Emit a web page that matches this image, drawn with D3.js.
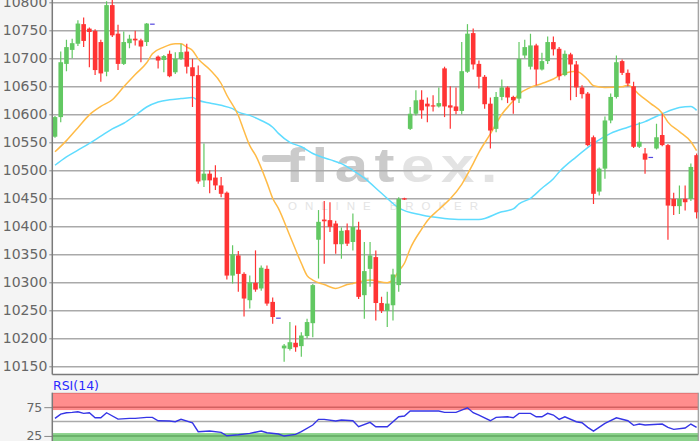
<!DOCTYPE html>
<html>
<head>
<meta charset="utf-8">
<script src="https://cdn.jsdelivr.net/npm/d3@7"></script>
<style>
  body { margin: 0; background: #f4f4f4; }
  svg { display: block; font-family: "DejaVu Sans", Verdana, sans-serif; }
</style>
</head>
<body>
<div id="chart"></div>
<script>
// candle data (one entry per bar, left to right)
var opens = [10560,10595,10690,10715,10726,10761,10753,10749,10729,10676,10795,10744,10690,10727,10735,10732,10729,10762,
  10703,10697,10708,10675,10699,10712,10684,10670,10482,10494,10487,10473,10460,10312,10348,10315,10268,10299,10289,10324,
  10265,10237,10182,10181,10192,10186,10204,10227,10376,10412,10411,10405,10368,10393,10372,10394,10277,10324,10345,10263,
  10249,10259,10295,10450,10574,10601,10626,10619,10616,10614,10682,10616,10614,10606,10676,10745,10690,10667,10619,10574,
  10631,10648,10631,10628,10705,10685,10723,10680,10695,10729,10717,10670,10707,10689,10648,10637,10559,10462,10503,10589,
  10631,10695,10674,10650,10542,10530,10524,10539,10563,10545,10449,10436,10449,10449,10527];
var highs = [10597,10712,10733,10735,10768,10773,10755,10752,10733,10802,10805,10760,10748,10742,10749,10735,10763,10762,
  10705,10706,10714,10711,10726,10726,10699,10687,10548,10500,10509,10488,10462,10366,10356,10318,10312,10357,10330,10330,
  10273,10237,10190,10229,10223,10211,10235,10297,10429,10445,10443,10410,10398,10405,10423,10408,10372,10372,10357,10274,
  10283,10324,10452,10451,10613,10643,10643,10630,10634,10648,10685,10650,10648,10729,10761,10753,10696,10670,10630,10640,
  10662,10650,10633,10729,10733,10744,10726,10710,10739,10739,10720,10714,10710,10695,10652,10640,10562,10505,10596,10637,
  10705,10698,10680,10658,10586,10540,10524,10583,10601,10547,10460,10473,10473,10512,10530];
var lows = [10558,10586,10677,10700,10722,10720,10684,10670,10658,10668,10738,10679,10688,10718,10723,10693,10722,10762,
  10682,10675,10666,10672,10697,10673,10613,10476,10470,10459,10465,10452,10305,10298,10283,10239,10253,10283,10285,10258,
  10226,10237,10158,10178,10176,10167,10200,10202,10307,10333,10390,10351,10342,10365,10357,10270,10235,10292,10232,10245,
  10220,10232,10283,10447,10572,10598,10592,10586,10605,10612,10595,10574,10600,10600,10674,10680,10646,10610,10539,10568,
  10625,10620,10601,10620,10700,10680,10652,10678,10690,10705,10661,10668,10625,10631,10628,10543,10440,10455,10485,10584,
  10628,10670,10650,10540,10540,10494,10524,10537,10543,10376,10420,10422,10428,10445,10414];
var closes = [10595,10693,10720,10727,10762,10731,10747,10679,10673,10795,10741,10690,10729,10735,10732,10721,10762,10762,
  10696,10704,10668,10699,10711,10685,10668,10480,10494,10482,10473,10458,10312,10350,10315,10271,10300,10287,10326,10262,
  10238,10237,10187,10193,10184,10205,10229,10295,10408,10409,10399,10368,10392,10369,10399,10274,10320,10348,10263,10249,
  10262,10314,10449,10448,10601,10625,10607,10614,10614,10620,10614,10612,10606,10677,10744,10689,10667,10618,10571,10631,
  10648,10630,10625,10699,10720,10723,10680,10695,10729,10716,10668,10708,10689,10648,10636,10545,10458,10503,10589,10631,
  10693,10674,10655,10542,10551,10519,10524,10559,10545,10437,10436,10449,10443,10506,10425];

// moving averages, read at some bars
var fastAt = [0,2,4,6,8,10,12,14,16,17,19,21,22,23,24,25,27,29,30,32,33,34,35,37,38,39,41,43,44,45,47,49,51,52,55,58,59,60,
  61,62,64,65,67,69,71,73,74,76,78,80,81,83,85,87,88,90,91,93,94,96,99,100,102,104,106,107,109,111,112];
var fastMa = [10533,10553,10576,10599,10614,10626,10649,10671,10692,10708,10720,10726,10726,10720,10714,10699,10680,10655,
  10634,10598,10570,10544,10527,10478,10450,10432,10383,10334,10312,10304,10296,10289,10296,10298,10304,10299,10305,10320,
  10334,10360,10395,10410,10430,10449,10475,10512,10532,10565,10600,10624,10636,10648,10655,10663,10669,10676,10677,10662,
  10651,10648,10649,10652,10635,10619,10602,10586,10569,10551,10535];
var slowAt = [0,2,4,6,8,10,12,14,16,18,20,22,24,25,27,29,31,32,34,36,38,39,41,43,45,48,50,52,54,57,60,64,68,71,74,78,80,81,
  83,85,87,88,91,94,97,100,103,106,109,111,112];
var slowMa = [10509,10524,10536,10548,10561,10574,10584,10598,10613,10622,10626,10628,10630,10625,10620,10616,10610,10604,
  10598,10589,10577,10566,10550,10542,10530,10519,10512,10500,10486,10459,10433,10420,10414,10412,10412,10426,10431,10440,
  10450,10468,10485,10497,10524,10548,10566,10577,10587,10601,10612,10614,10607];

// RSI(14), read at some bars
var rsiAt = [0,1,2,3,4,5,6,7,8,9,11,13,14,16,17,18,20,21,22,24,25,27,29,30,32,34,36,37,39,40,42,43,45,46,47,49,50,52,53,55,
  56,58,60,61,62,65,67,68,70,72,73,74,76,77,79,80,81,83,84,85,86,87,88,89,91,92,93,94,96,98,100,101,102,103,106,107,108,110,111,112];
var rsi = [55.5,63,65.3,66,67,64.3,65.3,56.6,56.6,65.3,54.3,55.5,55.5,57.3,57.3,51.4,50.9,49.7,53.8,47.9,32.3,33.5,31.2,25.3,
  27,29.5,33.5,30.5,28.3,24.8,27.7,32.3,43.9,53.8,53.8,50.9,52.6,51.4,41,48.6,41,41,58.3,59.6,68.3,68.3,68.3,66,66,74,65.3,
  61.3,51.4,57.3,58.3,56.6,64.3,64.3,58.3,58.3,64.3,61.3,53.8,58.3,49.7,47.9,39.9,33.5,46.9,56.6,51.4,43.4,45.7,43.9,45.7,
  39.9,36.4,38.7,45.7,39.9];

var priceTicks = [10150,10200,10250,10300,10350,10400,10450,10500,10550,10600,10650,10700,10750,10800];
var rsiTicks = [25, 75];
var rsiGrid = [25, 50, 75, 100];

// layout
var svgWidth = 700;
var svgHeight = 441;
var plot = {left: 52.3, right: 698.3, top: 0, bottom: 374.5};
var rsiTop = 392.7;

var svg = d3.select("#chart")
  .append("svg")
    .attr("width", svgWidth)
    .attr("height", svgHeight);

svg.append("rect").attr("width", svgWidth).attr("height", svgHeight).attr("fill", "#f4f4f4");
svg.append("rect")
  .attr("x", plot.left).attr("y", plot.top)
  .attr("width", plot.right - plot.left).attr("height", plot.bottom - plot.top)
  .attr("fill", "#fff");
svg.append("rect")
  .attr("x", plot.left).attr("y", rsiTop)
  .attr("width", plot.right - plot.left).attr("height", svgHeight - rsiTop)
  .attr("fill", "#fff");

var defs = svg.append("defs");
defs.append("clipPath").attr("id", "clipMain").append("rect")
  .attr("x", plot.left).attr("y", plot.top)
  .attr("width", plot.right - plot.left).attr("height", plot.bottom - plot.top);
defs.append("clipPath").attr("id", "clipRsi").append("rect")
  .attr("x", plot.left).attr("y", rsiTop)
  .attr("width", plot.right - plot.left).attr("height", svgHeight - rsiTop);

// scales
var xScale = d3.scalePoint().domain(d3.range(opens.length)).range([55, 696.6]);
var yScale = d3.scaleLinear().domain([10150, 10800]).range([366.3, 2.3]);
var rsiScale = d3.scaleLinear().domain([0, 100]).range([450.3, 392.8]);

// watermark (flatex logo)
var mark = svg.append("g").attr("clip-path", "url(#clipMain)");
mark.append("rect")
  .attr("x", 262).attr("y", 155).attr("width", 30).attr("height", 7)
  .attr("rx", 3).attr("fill", "#cbcbcb");
var logo = mark.append("g").attr("transform", "translate(285,182) scale(1.25,1)")
  .append("text")
    .attr("textLength", 170).attr("lengthAdjust", "spacing")
    .style("font-family", "'Liberation Sans', Arial, sans-serif")
    .style("font-weight", "bold")
    .style("font-size", "48px");
logo.append("tspan").attr("fill", "#cbcbcb").text("flat");
logo.append("tspan").attr("fill", "#e3e3e3").text("ex.");
mark.append("text")
  .attr("x", 288).attr("y", 210)
  .attr("textLength", 190).attr("lengthAdjust", "spacing")
  .attr("fill", "#e4e4e4")
  .style("font-family", "'Liberation Sans', Arial, sans-serif")
  .style("font-size", "11.5px")
  .text("ONLINE BROKER");

// price grid
svg.append("g")
  .attr("class", "grid")
  .attr("transform", "translate(" + plot.left + ",0)")
  .call(d3.axisLeft(yScale).tickValues(priceTicks).tickSize(-(plot.right - plot.left)).tickFormat(""))
  .call(function(g) { g.select(".domain").remove(); })
  .selectAll(".tick line").attr("stroke", "#aaa").attr("stroke-width", 1.6);

// moving averages
var chart = svg.append("g").attr("clip-path", "url(#clipMain)");
var lineFast = d3.line()
  .x(function(d, i) { return xScale(fastAt[i]); })
  .y(function(d) { return yScale(d); })
  .curve(d3.curveMonotoneX);
var lineSlow = d3.line()
  .x(function(d, i) { return xScale(slowAt[i]); })
  .y(function(d) { return yScale(d); })
  .curve(d3.curveMonotoneX);
chart.append("path").datum(slowMa).attr("d", lineSlow)
  .attr("fill", "none").attr("stroke", "#5fdcff").attr("stroke-width", 1.5);
chart.append("path").datum(fastMa).attr("d", lineFast)
  .attr("fill", "none").attr("stroke", "#ffbb47").attr("stroke-width", 1.5);

// candles
var candleColor = function(i) {
  if (closes[i] > opens[i]) return "#62c862";
  if (closes[i] < opens[i]) return "#ff3434";
  return "#5548e0";
};
var bars = chart.selectAll(".candle")
  .data(d3.range(opens.length))
  .enter()
  .append("g")
    .attr("class", "candle");
bars.append("line")
  .attr("x1", function(i) { return xScale(i); })
  .attr("x2", function(i) { return xScale(i); })
  .attr("y1", function(i) { return yScale(highs[i]); })
  .attr("y2", function(i) { return yScale(lows[i]); })
  .attr("stroke", candleColor)
  .attr("stroke-width", 1.2);
bars.append("rect")
  .attr("x", function(i) { return xScale(i) - 2.3; })
  .attr("width", 4.6)
  .attr("y", function(i) { return yScale(Math.max(opens[i], closes[i])); })
  .attr("height", function(i) { return Math.max(1.2, Math.abs(yScale(opens[i]) - yScale(closes[i]))); })
  .attr("fill", candleColor);

// price axis labels
svg.append("g")
  .attr("transform", "translate(" + plot.left + ",0)")
  .call(d3.axisLeft(yScale).tickValues(priceTicks).tickSize(3).tickPadding(2).tickFormat(d3.format("d")))
  .call(function(g) {
    g.select(".domain").remove();
    g.selectAll(".tick line").attr("stroke", "#888");
    g.selectAll(".tick text").attr("fill", "#666").style("font-size", "14px")
      .style("font-family", "'DejaVu Sans', Verdana, sans-serif");
  });

// frame of the price panel
svg.append("line").attr("x1", plot.left).attr("x2", plot.left).attr("y1", 0).attr("y2", plot.bottom)
  .attr("stroke", "#7a7a7a").attr("stroke-width", 1.5);
svg.append("line").attr("x1", plot.left).attr("x2", plot.right).attr("y1", plot.bottom).attr("y2", plot.bottom)
  .attr("stroke", "#7a7a7a").attr("stroke-width", 1.5);
svg.append("line").attr("x1", plot.right).attr("x2", plot.right).attr("y1", 0).attr("y2", plot.bottom)
  .attr("stroke", "#9a9a9a").attr("stroke-width", 1.2);

// RSI panel
svg.append("text")
  .attr("x", 53).attr("y", 390.3)
  .attr("fill", "#2a2aff")
  .style("font-size", "12.5px")
  .text("RSI(14)");

var rsiG = svg.append("g").attr("clip-path", "url(#clipRsi)");
rsiG.selectAll(".rgrid")
  .data(rsiGrid)
  .enter()
  .append("line")
    .attr("x1", plot.left).attr("x2", plot.right)
    .attr("y1", function(d) { return rsiScale(d); })
    .attr("y2", function(d) { return rsiScale(d); })
    .attr("stroke", "#aaa").attr("stroke-width", 1.6);
rsiG.append("rect")
  .attr("x", plot.left).attr("width", plot.right - plot.left)
  .attr("y", rsiScale(100)).attr("height", rsiScale(70) - rsiScale(100))
  .attr("fill", "#ff1010").attr("fill-opacity", 0.48);
rsiG.append("rect")
  .attr("x", plot.left).attr("width", plot.right - plot.left)
  .attr("y", rsiScale(30)).attr("height", rsiScale(0) - rsiScale(30))
  .attr("fill", "#20a820").attr("fill-opacity", 0.52);

var rsiLine = d3.line()
  .x(function(d, i) { return xScale(rsiAt[i]); })
  .y(function(d) { return rsiScale(d); });
rsiG.append("path").datum(rsi).attr("d", rsiLine)
  .attr("fill", "none").attr("stroke", "#3535e6").attr("stroke-width", 1.4);

svg.append("g")
  .attr("transform", "translate(" + plot.left + ",0)")
  .call(d3.axisLeft(rsiScale).tickValues(rsiTicks).tickSize(8).tickPadding(2))
  .call(function(g) {
    g.select(".domain").remove();
    g.selectAll(".tick line").attr("stroke", "#888");
    g.selectAll(".tick text").attr("fill", "#666").style("font-size", "12.5px")
      .style("font-family", "'DejaVu Sans', Verdana, sans-serif");
  });

svg.append("line").attr("x1", plot.left).attr("x2", plot.left).attr("y1", rsiTop).attr("y2", svgHeight)
  .attr("stroke", "#7a7a7a").attr("stroke-width", 1.5);
svg.append("line").attr("x1", plot.right).attr("x2", plot.right).attr("y1", rsiTop).attr("y2", svgHeight)
  .attr("stroke", "#9a9a9a").attr("stroke-width", 1.2);
</script>
</body>
</html>
